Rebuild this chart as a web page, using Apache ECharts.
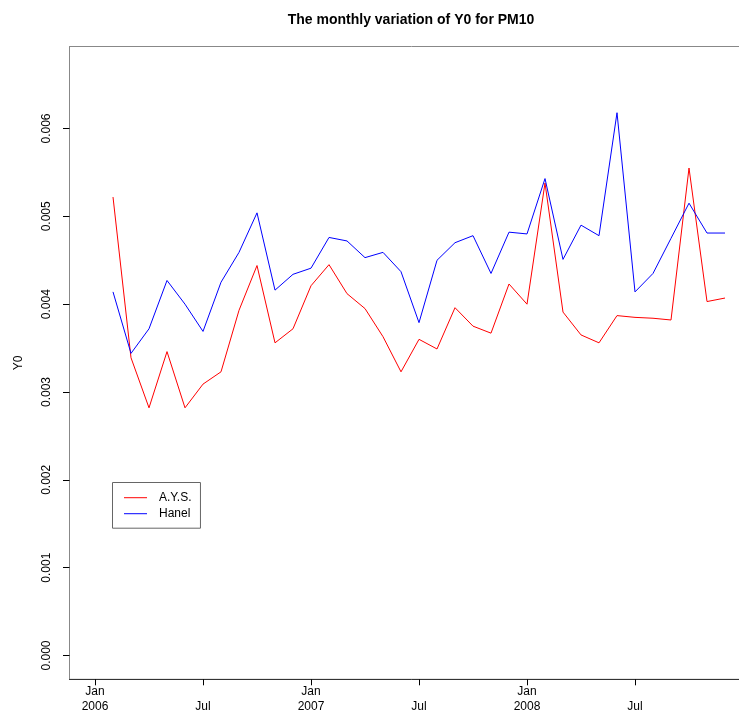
<!DOCTYPE html>
<html>
<head>
<meta charset="utf-8">
<script src="https://cdn.jsdelivr.net/npm/echarts@6/dist/echarts.min.js"></script>
<style>
html,body{margin:0;padding:0;background:#fff;overflow:hidden;width:739px;height:714px;}
#chart{width:770px;height:714px;}
</style>
</head>
<body>
<div id="chart"></div>
<script>
// Months (Feb 2006 .. Dec 2008)
var months = ["2006-02","2006-03","2006-04","2006-05","2006-06","2006-07","2006-08","2006-09","2006-10","2006-11","2006-12",
  "2007-01","2007-02","2007-03","2007-04","2007-05","2007-06","2007-07","2007-08","2007-09","2007-10","2007-11","2007-12",
  "2008-01","2008-02","2008-03","2008-04","2008-05","2008-06","2008-07","2008-08","2008-09","2008-10","2008-11","2008-12"];
var ays = [0.00522,0.00339,0.00282,0.00346,0.00282,0.00309,0.00323,0.00393,0.00444,0.00356,0.00372,
  0.00421,0.00445,0.00412,0.00395,0.00363,0.00323,0.00360,0.00349,0.00396,0.00375,0.00367,0.00423,
  0.00400,0.00538,0.00391,0.00365,0.00356,0.00387,0.00385,0.00384,0.00382,0.00555,0.00403,0.00407];
var hanel = [0.00414,0.00344,0.00372,0.00427,0.00400,0.00369,0.00425,0.00459,0.00504,0.00416,0.00434,
  0.00441,0.00476,0.00472,0.00453,0.00459,0.00437,0.00379,0.00450,0.00470,0.00478,0.00435,0.00482,
  0.00480,0.00543,0.00451,0.00490,0.00478,0.00618,0.00414,0.00435,0.00475,0.00515,0.00481,0.00481];
var xTickPos = [0,6,12,18,24,30];
var xTickLabels = ["Jan\n2006","\nJul","Jan\n2007","\nJul","Jan\n2008","\nJul"];
var yTicks = [0,0.001,0.002,0.003,0.004,0.005,0.006];

function monthIndex(s){
  var p = s.split("-");
  return (parseInt(p[0],10)-2006)*12 + parseInt(p[1],10)-1;
}
function pairs(vals){
  return months.map(function(m,i){ return [monthIndex(m), vals[i]]; });
}

var chart = echarts.init(document.getElementById('chart'), null, {renderer:'canvas', width:770, height:714});
var font = 'Liberation Sans, Arial, sans-serif';
chart.setOption({
  animation:false,
  backgroundColor:'#fff',
  title:{
    text:'The monthly variation of Y0 for PM10',
    left:406, top:8, textAlign:'center',
    textStyle:{fontFamily:font, fontSize:14, fontWeight:'bold', color:'#000'}
  },
  legend:{
    orient:'vertical', left:112.5, top:482.5,
    padding:[8.2,9,7.5,11.5], itemGap:2,
    icon:'rect', itemWidth:23, itemHeight:1,
    borderColor:'#666', borderWidth:1,
    textStyle:{fontFamily:font, fontSize:12, color:'#000', lineHeight:14, padding:[0,0,0,7]},
    data:['A.Y.S.','Hanel']
  },
  grid:{left:69.5, top:46.5, width:684, height:637, show:true, borderColor:'#888', borderWidth:1, containLabel:false},
  xAxis:{
    type:'value', min:-1.4167, max:36.5833,
    axisLine:{show:true, onZero:false, lineStyle:{color:'#333', width:1}},
    axisTick:{show:true, length:6, lineStyle:{color:'#000'}, customValues:xTickPos},
    axisLabel:{show:true, margin:5.5, customValues:xTickPos, fontFamily:font, fontSize:12, color:'#000', lineHeight:14.6,
      formatter:function(v){ var i = xTickPos.indexOf(Math.round(v)); return i>=0 ? xTickLabels[i] : ''; }},
    splitLine:{show:false}
  },
  yAxis:{
    type:'value', min:-0.000271, max:0.006934,
    name:'Y0', nameLocation:'middle', nameGap:45, nameRotate:90,
    nameTextStyle:{fontFamily:font, fontSize:12, color:'#000'},
    axisLine:{show:true, onZero:false, lineStyle:{color:'#888', width:1}},
    axisTick:{show:true, length:6.5, lineStyle:{color:'#000'}, customValues:yTicks},
    axisLabel:{show:true, rotate:90, margin:17, align:'center', verticalAlign:'bottom', customValues:yTicks,
      fontFamily:font, fontSize:12, color:'#000',
      formatter:function(v){ return v.toFixed(3); }},
    splitLine:{show:false}
  },
  series:[
    {name:'A.Y.S.', type:'line', data:pairs(ays), symbol:'none', lineStyle:{color:'#FF0000', width:1}, itemStyle:{color:'#FF0000'}},
    {name:'Hanel', type:'line', data:pairs(hanel), symbol:'none', lineStyle:{color:'#0000FF', width:1}, itemStyle:{color:'#0000FF'}}
  ]
});
</script>
</body>
</html>
